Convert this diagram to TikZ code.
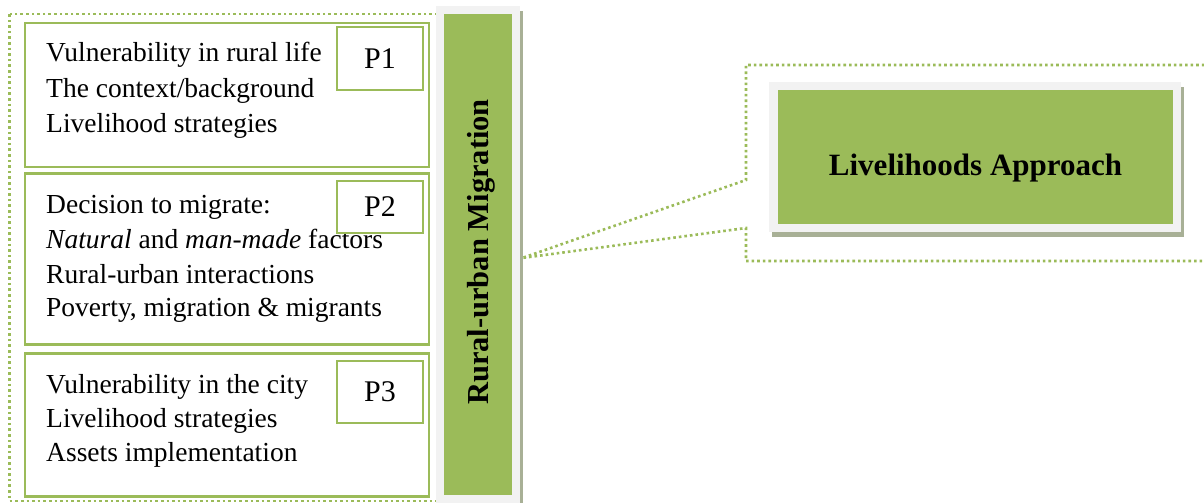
\documentclass[tikz,border=0pt]{standalone}
\usepackage{fontspec}
\setmainfont{Liberation Serif}
\definecolor{leafgreen}{HTML}{9BBB59}
\definecolor{paleframe}{HTML}{F2F2F2}
\definecolor{shadowgray}{HTML}{A8B096}
\begin{document}
\begin{tikzpicture}[x=1pt,y=-1pt,
  frame/.style={rectangle, draw=leafgreen, line width=2.8pt, fill=white, inner sep=0pt},
  tag/.style={frame, minimum width=86pt, font=\fontsize{30}{30}\selectfont},
  rowtext/.style={anchor=base west, inner sep=0pt, font=\fontsize{27.5}{30}\selectfont},
  plate/.style={rectangle, inner sep=0pt, draw=none},
  dotline/.style={draw=leafgreen, line width=2.6pt, dash pattern=on 2.6pt off 3pt}
]
\clip (0,0) rectangle (1204,503);
\useasboundingbox (0,0) rectangle (1204,503);

% dotted outline round the three parts
\draw[dotline] (9.5,14) rectangle (470,501);

% part frames
\node[frame, minimum width=404pt, minimum height=144pt] (p1) at (227,95) {};
\node[frame, minimum width=404pt, minimum height=171pt] (p2) at (227,259) {};
\node[frame, minimum width=404pt, minimum height=143pt] (p3) at (227,425) {};

% part contents
\node[rowtext] (p1a) at (46,62) {Vulnerability in rural life};
\node[rowtext] (p1b) at (46,97) {The context/background};
\node[rowtext] (p1c) at (46,132) {Livelihood strategies};

\node[rowtext] (p2a) at (46,213) {Decision to migrate:};
\node[rowtext] (p2b) at (46,248) {\textit{Natural} and \textit{man-made} factors};
\node[rowtext] (p2c) at (46,283) {Rural-urban interactions};
\node[rowtext] (p2d) at (46,316) {Poverty, migration \& migrants};

\node[rowtext] (p3a) at (46,393) {Vulnerability in the city};
\node[rowtext] (p3b) at (46,427) {Livelihood strategies};
\node[rowtext] (p3c) at (46,461) {Assets implementation};

% part tags
\node[tag, minimum height=63pt] (t1) at (380,58.5) {P1};
\node[tag, minimum height=52pt] (t2) at (380,207) {P2};
\node[tag, minimum height=62pt] (t3) at (380,392) {P3};

% vertical bar
\node[plate, fill=shadowgray, minimum width=84pt, minimum height=514pt] (barshadow) at (481,268) {};
\node[plate, fill=paleframe, minimum width=84pt, minimum height=514pt] (barframe) at (478,263) {};
\node[plate, fill=leafgreen, minimum width=68pt, minimum height=481pt] (bar) at (478,254.5) {};
\node[anchor=base, rotate=90, inner sep=0pt, font=\fontsize{30.5}{30}\selectfont\bfseries] (barlabel) at (488,252) {Rural-urban Migration};

% callout pointing to the bar
\coordinate (tip) at (522,258);
\draw[dotline] (1210,65) -- (746,65) -- (746,180) -- (tip) -- (746,228) -- (746,261) -- (1210,261);

% approach box
\node[plate, fill=shadowgray, minimum width=412pt, minimum height=150pt] (lashadow) at (978,162) {};
\node[plate, fill=paleframe, minimum width=412pt, minimum height=150pt] (laframe) at (975,157) {};
\node[plate, fill=leafgreen, minimum width=395pt, minimum height=134pt] (la) at (975.5,157) {};
\node[anchor=base, inner sep=0pt, font=\fontsize{31}{30}\selectfont\bfseries] (latext) at (975.5,175) {Livelihoods Approach};
\end{tikzpicture}
\end{document}
